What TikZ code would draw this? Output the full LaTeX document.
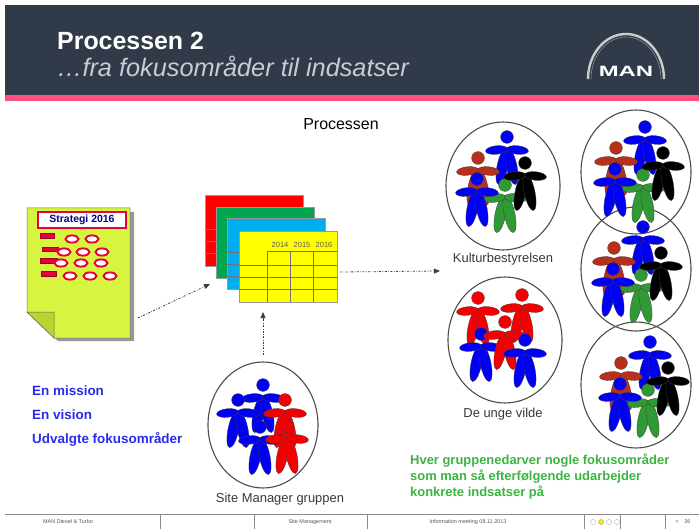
\documentclass[tikz,border=0pt]{standalone}
\usepackage{fontspec}
\setmainfont{Liberation Sans}
\usetikzlibrary{arrows.meta,shapes.geometric}

\definecolor{hdr}{HTML}{313A49}
\definecolor{hdrsub}{HTML}{C9CCD2}
\definecolor{pinkband}{HTML}{FF4F80}
\definecolor{docfill}{HTML}{D7F43E}
\definecolor{docfold}{HTML}{BAD32E}
\definecolor{pblue}{HTML}{0000F5}
\definecolor{pred}{HTML}{F50000}
\definecolor{pbrown}{HTML}{B8301C}
\definecolor{pgreen}{HTML}{2F9A34}
\definecolor{txtblue}{HTML}{2A2AEE}
\definecolor{txtgreen}{HTML}{3BB440}
\definecolor{sheetred}{HTML}{FF0000}
\definecolor{sheetgreen}{HTML}{00A550}
\definecolor{sheetblue}{HTML}{00AEEF}
\definecolor{sheetyellow}{HTML}{FFFF00}
\definecolor{strred}{HTML}{E8003A}

\tikzset{
  % a stick figure: head, two arms, two legs
  person/.pic={
    \begin{scope}[fill=#1, draw=black!75, line width=0.3bp]
      \filldraw[rotate around={-12:(-4.5,29)}] (-4.5,29) ellipse [x radius=5.4, y radius=19];
      \filldraw[rotate around={12:(4.5,29)}] (4.5,29) ellipse [x radius=5.4, y radius=19];
      \filldraw[rotate around={6:(-10.5,13)}] (-10.5,13) ellipse [x radius=11, y radius=4.3];
      \filldraw[rotate around={-6:(10.5,13)}] (10.5,13) ellipse [x radius=11, y radius=4.3];
      \filldraw (0,0) circle [radius=6.4];
    \end{scope}
  },
  % the five-person group used in several circles
  team/.pic={
    \pic at (0,0) {person=pblue};
    \pic at (-29,21) {person=pbrown};
    \pic at (-2,48) {person=pgreen};
    \pic at (18,26) {person=black};
    \pic at (-30,42) {person=pblue};
  },
  % one spreadsheet page of the stack
  sheet/.pic={
    \filldraw[fill=#1, draw=black!40, line width=0.5bp] (0,0) rectangle (98,71);
    \draw[black!55, line width=0.5bp]
      (28,20) -- (98,20) (0,34) -- (98,34) (0,46) -- (98,46) (0,58) -- (98,58)
      (28,20) -- (28,71) (51,20) -- (51,71) (74,20) -- (74,71);
  },
  group/.style={ellipse, draw=black!70, line width=1.1bp, inner sep=0pt},
  grouplabel/.style={font=\fontsize{13}{15}\selectfont, text=black!78},
  flow/.style={draw=black!75, line width=0.8bp,
    dash pattern=on 2bp off 1.5bp on 0.6bp off 1.5bp,
    -{Triangle[length=6bp,width=5bp]}},
  footertext/.style={font=\fontsize{5.5}{6}\selectfont, text=black!65},
  redbar/.style={fill=strred, draw=strred!70!black, line width=0.3bp},
  redoval/.style={draw=strred, line width=1.9bp, fill=white},
}

\begin{document}
\begin{tikzpicture}[x=1bp, y=-1bp]
  \useasboundingbox (0,0) rectangle (699,529);
  \fill[white] (0,0) rectangle (699,529);

  % header
  \fill[hdr] (5,5) rectangle (699,95);
  \fill[pinkband] (5,95) rectangle (699,101);
  \node[anchor=base west, font=\fontsize{25}{29}\selectfont\bfseries, text=white, inner sep=0pt] (title) at (57,50) {Processen 2};
  \node[anchor=base west, font=\fontsize{25.4}{30}\selectfont\itshape, text=hdrsub, inner sep=0pt] (subtitle) at (57,77) {…fra fokusområder til indsatser};

  % logo
  \draw[black!20, line width=2.4bp] (588,79) arc[start angle=180, end angle=360, x radius=38, y radius=45];
  \draw[black!45, line width=0.6bp] (591,79) arc[start angle=180, end angle=360, x radius=35, y radius=42];
  \node[font=\fontsize{15}{16}\selectfont\bfseries, text=white, xscale=1.6, inner sep=0pt] (logo) at (626,71) {MAN};

  \node[font=\fontsize{16}{18}\selectfont, inner sep=0pt] (proc) at (341,124) {Processen};

  % strategy document
  \fill[black!40] (31,212) -- (134,212) -- (134,341) -- (58,341) -- (31,315) -- cycle;
  \filldraw[fill=docfill, draw=black!55, line width=0.5bp] (27,208) -- (130,208) -- (130,338) -- (54,338) -- (27,312) -- cycle;
  \filldraw[fill=docfold, draw=black!60, line width=0.5bp] (27,312) -- (54,312) -- (54,338) -- cycle;
  \node[draw=strred, line width=1.2bp, fill=white, minimum width=88bp, minimum height=16bp, inner sep=0pt,
        font=\fontsize{10.5}{11}\selectfont\bfseries, text=blue!55!black] (strat) at (82,220) {Strategi 2016};
  \fill[redbar] (40,233) rectangle (54,238);
  \fill[redbar] (42,247) rectangle (58,251);
  \fill[redbar] (40,258) rectangle (57,263);
  \fill[redbar] (41,271) rectangle (56,276);
  \foreach \x/\y in {72/239, 92/239, 64/252, 83/252, 102/252, 61/263, 81/263, 101/263, 70/276, 90/276, 110/276}
    \filldraw[redoval] (\x,\y) ellipse [x radius=6.5, y radius=3.6];
  \coordinate (docout) at (138,318);

  % stack of planning sheets
  \pic at (205,195) {sheet=sheetred};
  \pic at (216,207) {sheet=sheetgreen};
  \pic at (227,218) {sheet=sheetblue};
  \pic at (239,231) {sheet=sheetyellow};
  \foreach \x/\yr in {280/2014, 302/2015, 324/2016}
    \node[font=\fontsize{7.5}{8}\selectfont, text=black!65, inner sep=0pt] (yr\yr) at (\x,245) {\yr};
  \coordinate (stackin) at (210,284);
  \coordinate (stackbottom) at (263,312);
  \coordinate (stackout) at (340,272);

  % groups
  \node[group, minimum width=114bp, minimum height=128bp] (kultur) at (503,186) {};
  \node[group, minimum width=114bp, minimum height=126bp] (unge) at (505,340) {};
  \node[group, minimum width=110bp, minimum height=124bp] (r1) at (636,172) {};
  \node[group, minimum width=110bp, minimum height=124bp] (r2) at (636,269) {};
  \node[group, minimum width=110bp, minimum height=126bp] (r3) at (636,385) {};
  \node[group, minimum width=110bp, minimum height=126bp] (sm) at (263,425) {};
  \coordinate (kulturin) at (440,271);
  \coordinate (smtop) at (263,355);

  \pic at (507,137) {team};
  \pic at (645,127) {team};
  \pic at (643,227) {team};
  \pic at (650,342) {team};

  % De unge vilde
  \pic at (478,298) {person=pred};
  \pic at (522,295) {person=pred};
  \pic at (481,334) {person=pblue};
  \pic at (505,322) {person=pred};
  \pic at (525,340) {person=pblue};

  % Site Manager gruppen
  \pic at (263,385) {person=pblue};
  \pic at (238,400) {person=pblue};
  \pic at (285,400) {person=pred};
  \pic at (260,427) {person=pblue};
  \pic at (287,426) {person=pred};

  \node[grouplabel] (kulturlbl) at (503,259) {Kulturbestyrelsen};
  \node[grouplabel] (ungelbl) at (503,414) {De unge vilde};
  \node[grouplabel] (smlbl) at (280,499) {Site Manager gruppen};

  % connectors
  \draw[flow] (docout) -- (stackin);
  \draw[flow] (smtop) -- (stackbottom);
  \draw[flow] (stackout) -- (kulturin);

  % left-hand list
  \foreach \t/\y in {En mission/395, En vision/419, Udvalgte fokusområder/443}
    \node[anchor=base west, font=\fontsize{13.5}{15}\selectfont\bfseries, text=txtblue, inner sep=0pt] at (32,\y) {\t};

  % note on the groups
  \node[anchor=base west, font=\fontsize{13}{15}\selectfont\bfseries, text=txtgreen, inner sep=0pt] (n1) at (410,464) {Hver gruppenedarver nogle fokusområder};
  \node[anchor=base west, font=\fontsize{13}{15}\selectfont\bfseries, text=txtgreen, inner sep=0pt] (n2) at (410,480) {som man så efterfølgende udarbejder};
  \node[anchor=base west, font=\fontsize{13}{15}\selectfont\bfseries, text=txtgreen, inner sep=0pt] (n3) at (410,496) {konkrete indsatser på};

  % footer
  \draw[black!45, line width=0.6bp] (5,514) -- (699,514);
  \foreach \x in {160,254,367,584,620,665}
    \draw[black!45, line width=0.5bp] (\x,514) -- (\x,529);
  \node[footertext] (f1) at (68,522) {MAN Diesel \& Turbo};
  \node[footertext] (f2) at (310,522) {Site Management};
  \node[footertext] (f3) at (468,522) {Information meeting 08.11.2013};
  \foreach \x/\c in {593/white, 601/yellow!90!orange, 609/white, 617/white}
    \filldraw[fill=\c, draw=black!35, line width=0.3bp] (\x,522) circle [radius=2.6];
  \node[footertext] (f4) at (683,522) {<\quad 36};
\end{tikzpicture}
\end{document}
